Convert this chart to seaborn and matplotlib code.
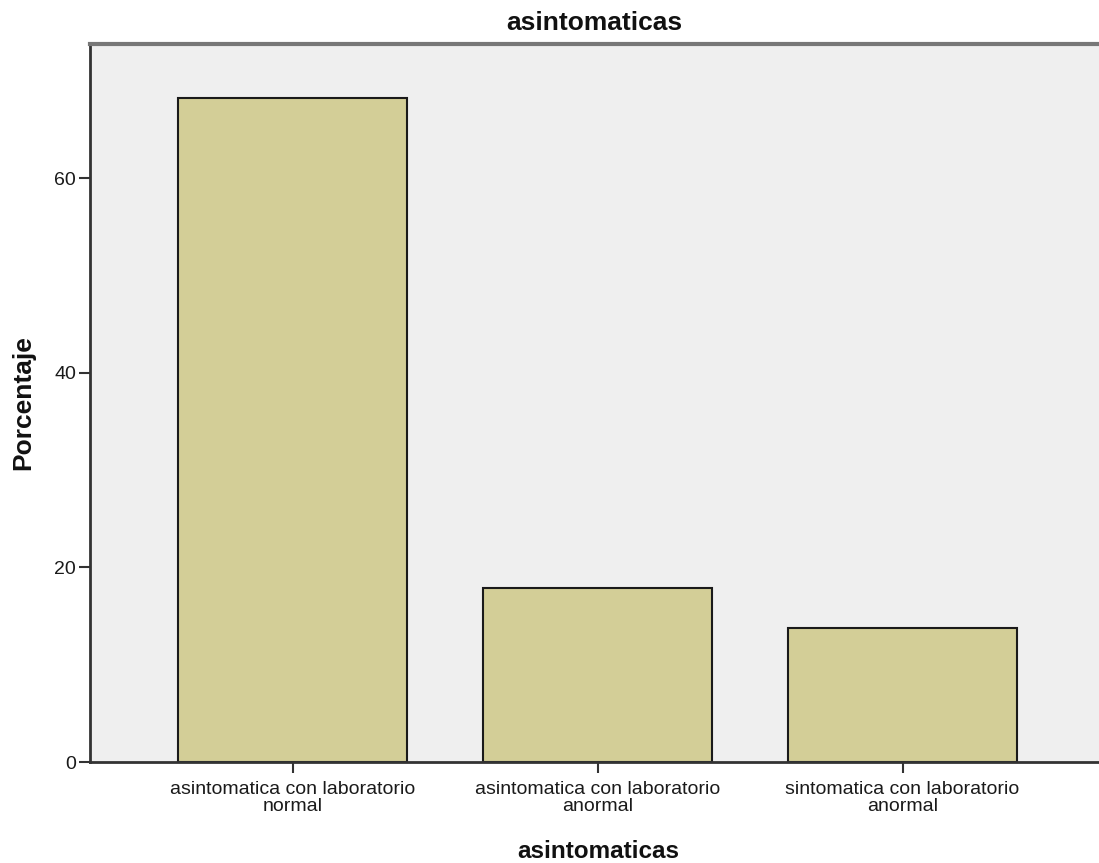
import matplotlib
matplotlib.use("Agg")
import matplotlib.pyplot as plt
import seaborn as sns
import pandas as pd

categories = ["asintomatica con laboratorio\nnormal",
              "asintomatica con laboratorio\nanormal",
              "sintomatica con laboratorio\nanormal"]
percentages = [68.3, 17.9, 13.8]
y_ticks = [0, 20, 40, 60]

sns.set_style("white")
plt.rcParams['font.family'] = ['Liberation Sans', 'DejaVu Sans']

df = pd.DataFrame({"cat": categories, "pct": percentages})

W, H = 1099, 863
fig = plt.figure(figsize=(W / 100, H / 100), dpi=100)
ax = fig.add_axes([90 / W, 1 - 762 / H, 1009 / W, 718 / H])
ax.set_facecolor("#EFEFEF")

sns.barplot(data=df, x="cat", y="pct", color="#D3CE97", saturation=1,
            width=0.75, edgecolor="#1a1a1a", linewidth=1.5, ax=ax)

ax.set_xlim(-0.664, 2.644)
ax.set_ylim(0, 73.8)
ax.set_yticks(y_ticks)
ax.set_yticklabels([str(v) for v in y_ticks])

for s in ["left", "bottom"]:
    ax.spines[s].set_color("#333333")
    ax.spines[s].set_linewidth(2)
ax.spines["top"].set_color("#777777")
ax.spines["top"].set_linewidth(3)
ax.spines["right"].set_visible(False)

ax.tick_params(axis="both", which="both", direction="out", length=8, width=1.5,
               color="#333333", labelsize=14, labelcolor="#1a1a1a", pad=2,
               left=True, bottom=True)
ax.tick_params(axis="x", pad=6)
for lbl in ax.get_xticklabels():
    lbl.set_linespacing(1.0)

ax.set_xlabel("asintomaticas", fontsize=17.5, fontweight="bold", color="#111111",
              va="baseline")
ax.xaxis.set_label_coords(0.5035, -0.1335)
ax.set_ylabel("Porcentaje", fontsize=19, fontweight="bold", labelpad=14, color="#111111")
ax.set_title("asintomaticas", fontsize=19, fontweight="bold", pad=10, color="#111111")

fig.savefig("out.png", dpi=100, facecolor="white")
